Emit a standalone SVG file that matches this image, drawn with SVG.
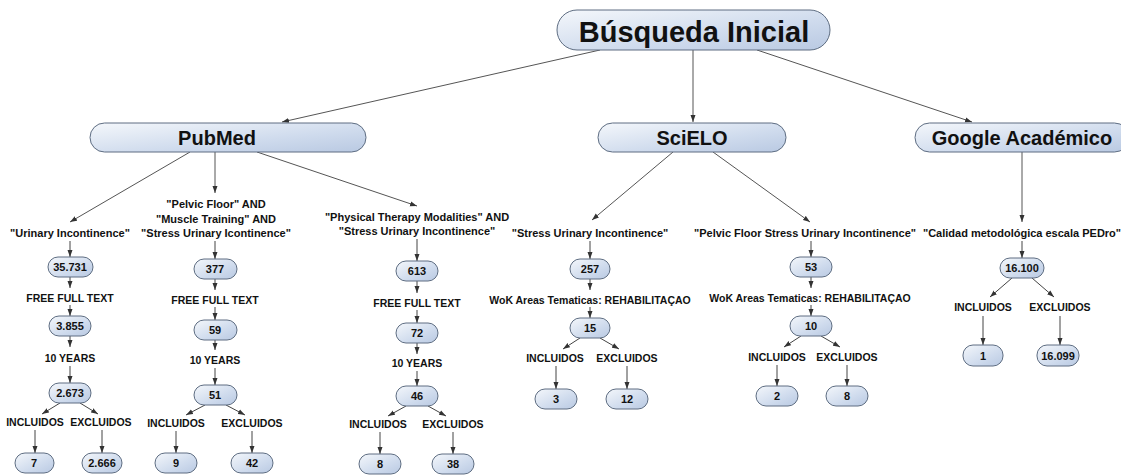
<svg xmlns="http://www.w3.org/2000/svg" width="1121" height="475" viewBox="0 0 1121 475">
<defs>
<linearGradient id="g" x1="0" y1="0" x2="1" y2="1">
<stop offset="0" stop-color="#f4f7fb"/>
<stop offset="0.6" stop-color="#cfdbed"/>
<stop offset="1" stop-color="#b9c9e2"/>
</linearGradient>
<marker id="a" markerUnits="userSpaceOnUse" markerWidth="7" markerHeight="6" refX="7" refY="3" orient="auto">
<path d="M0,0.5 L7,3 L0,5.5 z" fill="#333"/>
</marker>
<style>
.p{fill:url(#g);stroke:#5e6d82;stroke-width:1}
.t{font-family:"Liberation Sans",Arial,sans-serif;font-weight:bold;fill:#111;text-anchor:middle}
.big{font-size:20px}
.q{font-size:11px}
.s{font-size:10.5px}
.n{font-size:11px}
.c line{stroke:#444;stroke-width:1;marker-end:url(#a)}
.c .l{stroke:#555}
</style>
</defs>
<rect width="1121" height="475" fill="#fff"/>
<g class="c">
<line class="l" x1="600" y1="50" x2="282" y2="122"/>
<line class="l" x1="693" y1="50" x2="693" y2="122"/>
<line class="l" x1="757" y1="50" x2="972" y2="122"/>
<line class="l" x1="190" y1="152" x2="70" y2="222"/>
<line class="l" x1="215" y1="152" x2="215" y2="193"/>
<line class="l" x1="257" y1="152" x2="417" y2="206"/>
<line class="l" x1="673" y1="152" x2="592" y2="220"/>
<line class="l" x1="713" y1="152" x2="810" y2="222"/>
<line class="l" x1="1022" y1="152" x2="1022" y2="222"/>
<line x1="70" y1="241" x2="70" y2="257"/>
<line x1="70" y1="277" x2="70" y2="288"/>
<line x1="70" y1="305" x2="70" y2="316"/>
<line x1="70" y1="336" x2="70" y2="347"/>
<line x1="70" y1="366" x2="70" y2="383"/>
<line x1="60" y1="403" x2="42" y2="414"/>
<line x1="80" y1="403" x2="98" y2="414"/>
<line x1="35" y1="430" x2="35" y2="453"/>
<line x1="102" y1="430" x2="102" y2="453"/>
<line x1="215" y1="241" x2="215" y2="259"/>
<line x1="215" y1="279" x2="215" y2="290"/>
<line x1="215" y1="307" x2="215" y2="320"/>
<line x1="215" y1="340" x2="215" y2="350"/>
<line x1="215" y1="368" x2="215" y2="385"/>
<line x1="205" y1="405" x2="186" y2="415"/>
<line x1="226" y1="405" x2="245" y2="415"/>
<line x1="176" y1="431" x2="176" y2="453"/>
<line x1="252" y1="431" x2="252" y2="453"/>
<line x1="417" y1="239" x2="417" y2="261"/>
<line x1="417" y1="281" x2="417" y2="293"/>
<line x1="417" y1="310" x2="417" y2="323"/>
<line x1="417" y1="343" x2="417" y2="354"/>
<line x1="417" y1="371" x2="417" y2="386"/>
<line x1="406" y1="406" x2="388" y2="416"/>
<line x1="428" y1="406" x2="446" y2="416"/>
<line x1="380" y1="432" x2="380" y2="454"/>
<line x1="453" y1="432" x2="453" y2="454"/>
<line x1="590" y1="241" x2="590" y2="259"/>
<line x1="590" y1="279" x2="590" y2="290"/>
<line x1="590" y1="307" x2="590" y2="318"/>
<line x1="580" y1="338" x2="563" y2="349"/>
<line x1="600" y1="338" x2="619" y2="349"/>
<line x1="556" y1="366" x2="556" y2="389"/>
<line x1="627" y1="366" x2="627" y2="389"/>
<line x1="811" y1="241" x2="811" y2="257"/>
<line x1="811" y1="277" x2="811" y2="288"/>
<line x1="811" y1="305" x2="811" y2="316"/>
<line x1="801" y1="336" x2="784" y2="347"/>
<line x1="821" y1="336" x2="840" y2="347"/>
<line x1="777" y1="365" x2="777" y2="386"/>
<line x1="847" y1="365" x2="847" y2="386"/>
<line x1="1022" y1="241" x2="1022" y2="258"/>
<line x1="1012" y1="278" x2="990" y2="297"/>
<line x1="1032" y1="278" x2="1054" y2="297"/>
<line x1="983" y1="316" x2="983" y2="345"/>
<line x1="1060" y1="316" x2="1060" y2="345"/>
</g>
<g id="root"><rect class="p" x="557" y="10" width="273" height="40" rx="20"/><text class="t" x="694" y="42" style="font-size:29px">Búsqueda Inicial</text></g>
<g id="pubmed"><rect class="p" x="90" y="123" width="276" height="29" rx="14.5"/><text class="t big" x="217" y="145">PubMed</text></g>
<g id="scielo"><rect class="p" x="598" y="123" width="188" height="29" rx="14.5"/><text class="t big" x="692" y="145">SciELO</text></g>
<g id="google"><rect class="p" x="915" y="123" width="214" height="29" rx="14.5"/><text class="t big" x="1022" y="145">Google Académico</text></g>

<g id="q1"><text class="t q" x="70" y="237">"Urinary Incontinence"</text></g>
<g id="n1a"><rect class="p" x="48" y="257" width="45" height="20" rx="10"/><text class="t n" x="70" y="271">35.731</text></g>
<g id="l1a"><text class="t s" x="70" y="302">FREE FULL TEXT</text></g>
<g id="n1b"><rect class="p" x="49" y="316" width="42" height="20" rx="10"/><text class="t n" x="70" y="330">3.855</text></g>
<g id="l1b"><text class="t s" x="70" y="362">10 YEARS</text></g>
<g id="n1c"><rect class="p" x="49" y="383" width="42" height="20" rx="10"/><text class="t n" x="70" y="397">2.673</text></g>
<g id="l1c"><text class="t s" x="35" y="426">INCLUIDOS</text><text class="t s" x="101" y="426">EXCLUIDOS</text></g>
<g id="n1d"><rect class="p" x="15" y="453" width="39" height="20" rx="10"/><text class="t n" x="34" y="467">7</text></g>
<g id="n1e"><rect class="p" x="82" y="453" width="40" height="20" rx="10"/><text class="t n" x="102" y="467">2.666</text></g>

<g id="q2"><text class="t q" x="216" y="208">"Pelvic Floor" AND</text><text class="t q" x="216" y="223">"Muscle Training" AND</text><text class="t q" x="216" y="237">"Stress Urinary Icontinence"</text></g>
<g id="n2a"><rect class="p" x="194" y="259" width="43" height="20" rx="10"/><text class="t n" x="215" y="273">377</text></g>
<g id="l2a"><text class="t s" x="215" y="304">FREE FULL TEXT</text></g>
<g id="n2b"><rect class="p" x="194" y="320" width="43" height="20" rx="10"/><text class="t n" x="215" y="334">59</text></g>
<g id="l2b"><text class="t s" x="215" y="364">10 YEARS</text></g>
<g id="n2c"><rect class="p" x="194" y="385" width="43" height="20" rx="10"/><text class="t n" x="215" y="399">51</text></g>
<g id="l2c"><text class="t s" x="176" y="427">INCLUIDOS</text><text class="t s" x="252" y="427">EXCLUIDOS</text></g>
<g id="n2d"><rect class="p" x="155" y="453" width="42" height="20" rx="10"/><text class="t n" x="176" y="467">9</text></g>
<g id="n2e"><rect class="p" x="231" y="453" width="42" height="20" rx="10"/><text class="t n" x="252" y="467">42</text></g>

<g id="q3"><text class="t q" x="417" y="221">"Physical Therapy Modalities" AND</text><text class="t q" x="417" y="235">"Stress Urinary Incontinence"</text></g>
<g id="n3a"><rect class="p" x="396" y="261" width="42" height="20" rx="10"/><text class="t n" x="417" y="275">613</text></g>
<g id="l3a"><text class="t s" x="417" y="307">FREE FULL TEXT</text></g>
<g id="n3b"><rect class="p" x="396" y="323" width="42" height="20" rx="10"/><text class="t n" x="417" y="337">72</text></g>
<g id="l3b"><text class="t s" x="417" y="367">10 YEARS</text></g>
<g id="n3c"><rect class="p" x="396" y="386" width="42" height="20" rx="10"/><text class="t n" x="417" y="400">46</text></g>
<g id="l3c"><text class="t s" x="378" y="428">INCLUIDOS</text><text class="t s" x="453" y="428">EXCLUIDOS</text></g>
<g id="n3d"><rect class="p" x="359" y="454" width="42" height="20" rx="10"/><text class="t n" x="380" y="468">8</text></g>
<g id="n3e"><rect class="p" x="432" y="454" width="42" height="20" rx="10"/><text class="t n" x="453" y="468">38</text></g>

<g id="q4"><text class="t q" x="590" y="237">"Stress Urinary Incontinence"</text></g>
<g id="n4a"><rect class="p" x="570" y="259" width="40" height="20" rx="10"/><text class="t n" x="590" y="273">257</text></g>
<g id="l4a"><text class="t s" x="590" y="304">WoK Areas Tematicas: REHABILITAÇAO</text></g>
<g id="n4b"><rect class="p" x="570" y="318" width="40" height="20" rx="10"/><text class="t n" x="590" y="332">15</text></g>
<g id="l4c"><text class="t s" x="555" y="362">INCLUIDOS</text><text class="t s" x="627" y="362">EXCLUIDOS</text></g>
<g id="n4d"><rect class="p" x="535" y="389" width="42" height="20" rx="10"/><text class="t n" x="556" y="403">3</text></g>
<g id="n4e"><rect class="p" x="606" y="389" width="42" height="20" rx="10"/><text class="t n" x="627" y="403">12</text></g>

<g id="q5"><text class="t q" x="805" y="237">"Pelvic Floor Stress Urinary Incontinence"</text></g>
<g id="n5a"><rect class="p" x="790" y="257" width="42" height="20" rx="10"/><text class="t n" x="811" y="271">53</text></g>
<g id="l5a"><text class="t s" x="810" y="302">WoK Areas Tematicas: REHABILITAÇAO</text></g>
<g id="n5b"><rect class="p" x="790" y="316" width="42" height="20" rx="10"/><text class="t n" x="811" y="330">10</text></g>
<g id="l5c"><text class="t s" x="777" y="361">INCLUIDOS</text><text class="t s" x="847" y="361">EXCLUIDOS</text></g>
<g id="n5d"><rect class="p" x="756" y="386" width="42" height="20" rx="10"/><text class="t n" x="777" y="400">2</text></g>
<g id="n5e"><rect class="p" x="826" y="386" width="42" height="20" rx="10"/><text class="t n" x="847" y="400">8</text></g>

<g id="q6"><text class="t q" x="1022" y="237">"Calidad metodológica escala PEDro"</text></g>
<g id="n6a"><rect class="p" x="1000" y="258" width="44" height="20" rx="10"/><text class="t n" x="1022" y="272">16.100</text></g>
<g id="l6c"><text class="t s" x="983" y="311">INCLUIDOS</text><text class="t s" x="1060" y="311">EXCLUIDOS</text></g>
<g id="n6d"><rect class="p" x="963" y="345" width="40" height="21" rx="10"/><text class="t n" x="983" y="360">1</text></g>
<g id="n6e"><rect class="p" x="1037" y="345" width="42" height="21" rx="10"/><text class="t n" x="1058" y="360">16.099</text></g>
</svg>
